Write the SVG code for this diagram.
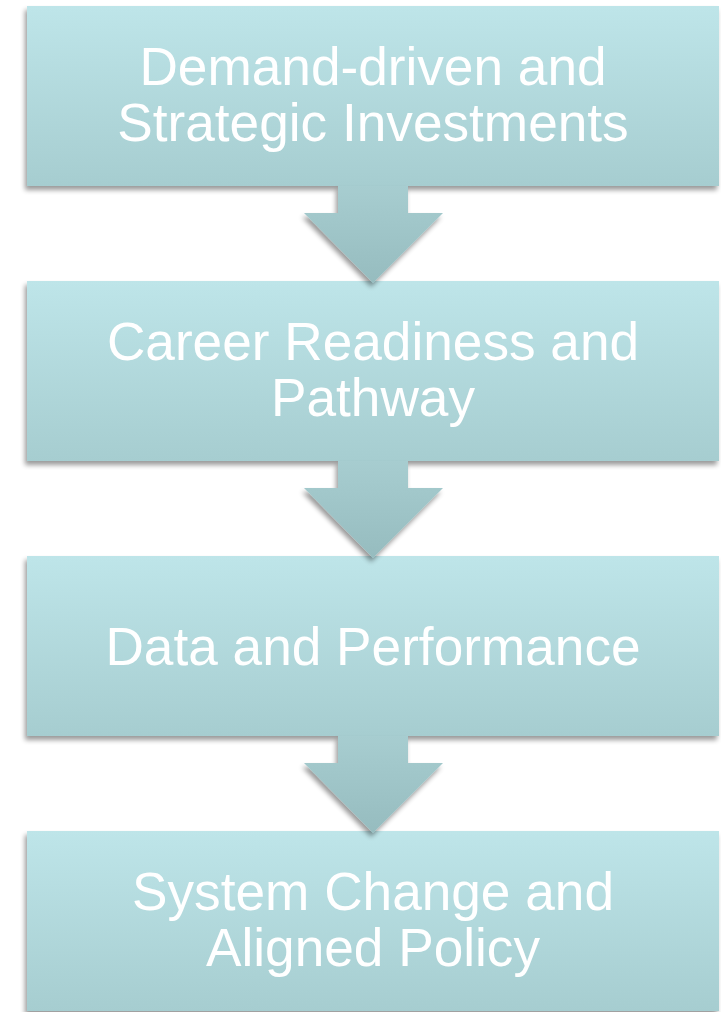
<svg xmlns="http://www.w3.org/2000/svg" width="721" height="1012" viewBox="0 0 721 1012">
<defs>
<linearGradient id="boxg" x1="0" y1="0" x2="0" y2="1">
<stop offset="0" stop-color="#bee5e9"/>
<stop offset="1" stop-color="#a6cdd0"/>
</linearGradient>
<linearGradient id="arrg" x1="0" y1="0" x2="0" y2="1">
<stop offset="0" stop-color="#a7cdd0"/>
<stop offset="1" stop-color="#96bcbf"/>
</linearGradient>
<filter id="sh" x="-10%" y="-10%" width="120%" height="130%">
<feGaussianBlur in="SourceAlpha" stdDeviation="2.5"/>
<feOffset dx="-2" dy="4" result="b"/>
<feComponentTransfer><feFuncA type="linear" slope="0.4"/></feComponentTransfer>
<feMerge><feMergeNode/><feMergeNode in="SourceGraphic"/></feMerge>
</filter>
</defs>
<style>
.box{fill:url(#boxg);filter:url(#sh)}
.arr{fill:url(#arrg);filter:url(#sh)}
.t{font-family:"Liberation Sans",Arial,sans-serif;font-size:53.2px;fill:#ffffff;text-anchor:middle}
</style>
<g id="node1">
<rect class="box" x="27" y="6" width="692" height="180"/>
<text class="t" x="373" y="85">Demand-driven and</text>
<text class="t" x="373" y="141">Strategic Investments</text>
</g>
<g id="node2">
<rect class="box" x="27" y="281" width="692" height="180"/>
<text class="t" x="373" y="360">Career Readiness and</text>
<text class="t" x="373" y="416">Pathway</text>
</g>
<g id="node3">
<rect class="box" x="27" y="556" width="692" height="180"/>
<text class="t" x="373" y="665">Data and Performance</text>
</g>
<g id="node4">
<rect class="box" x="27" y="831" width="692" height="180"/>
<text class="t" x="373" y="910">System Change and</text>
<text class="t" x="373" y="966">Aligned Policy</text>
</g>
<g id="connectors">
<polygon class="arr" points="338,186 408,186 408,213 443,213 373,283 304,213 338,213"/>
<polygon class="arr" points="338,461 408,461 408,488 443,488 373,558 304,488 338,488"/>
<polygon class="arr" points="338,736 408,736 408,763 443,763 373,833 304,763 338,763"/>
</g>
</svg>
